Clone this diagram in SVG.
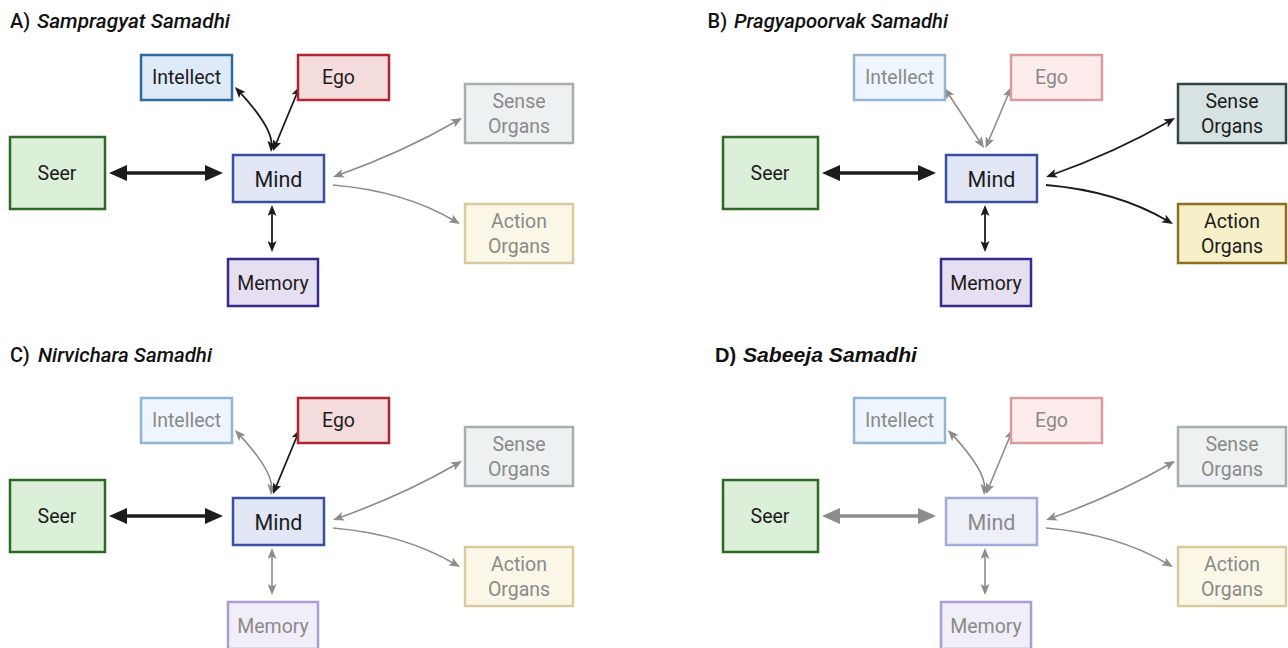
<svg xmlns="http://www.w3.org/2000/svg" width="1288" height="648" viewBox="0 0 1288 648">
<defs>
<style>
.bx{stroke-width:2.5}
.lb{font-family:Roboto,"Liberation Sans",sans-serif;font-size:19.5px;text-anchor:middle;fill:#1c1c1c}
.mi{font-size:21.5px}
.off .lb{fill:#8a8a8a}
.ti{font-family:Roboto,"Liberation Sans",sans-serif;font-size:20px;font-weight:500;fill:#111}
.tit{font-style:italic}
.td{font-family:"Liberation Sans",Arial,sans-serif;font-size:20px;font-weight:bold;fill:#111}
.intel-on{fill:#deeaf7;stroke:#2c6aa0}
.intel-off{fill:#eef5fc;stroke:#93b5d4}
.ego-on{fill:#f5dcdc;stroke:#b02434}
.ego-off{fill:#fcebeb;stroke:#d99aa0}
.seer{fill:#dcefd8;stroke:#2c6a26}
.mind-on{fill:#e2e7f5;stroke:#3b4fa2}
.mind-off{fill:#eef0f8;stroke:#a3abd8}
.mem-on{fill:#e6dff1;stroke:#382a8a}
.mem-off{fill:#f1eef8;stroke:#a99dd2}
.sense-on{fill:#d7e3e2;stroke:#334444}
.sense-off{fill:#edf1f2;stroke:#a8adad}
.act-on{fill:#f6efc8;stroke:#8d6f1f}
.act-off{fill:#faf7e7;stroke:#d8ca9e}
.k{fill:none;stroke:#1c1c1c;stroke-width:1.8}
.g{fill:none;stroke:#8c8c8c;stroke-width:1.6}
.kt{fill:none;stroke:#1c1c1c;stroke-width:3.5}
.gt{fill:none;stroke:#8c8c8c;stroke-width:3.5}
.k.s{marker-start:url(#ak)}
.k.e{marker-end:url(#ak)}
.g.s{marker-start:url(#ag)}
.g.e{marker-end:url(#ag)}
.kt{marker-start:url(#bk);marker-end:url(#bk)}
.gt{marker-start:url(#bg);marker-end:url(#bg)}
</style>
<marker id="ak" viewBox="0 0 11 9" refX="5" refY="4.5" markerWidth="11" markerHeight="9" markerUnits="userSpaceOnUse" orient="auto-start-reverse"><path d="M0,0 L11,4.5 L0,9 L2.5,4.5 Z" fill="#1c1c1c"/></marker>
<marker id="ag" viewBox="0 0 11 9" refX="5" refY="4.5" markerWidth="11" markerHeight="9" markerUnits="userSpaceOnUse" orient="auto-start-reverse"><path d="M0,0 L11,4.5 L0,9 L2.5,4.5 Z" fill="#8c8c8c"/></marker>
<marker id="bk" viewBox="0 0 18 16" refX="8" refY="8" markerWidth="18" markerHeight="16" markerUnits="userSpaceOnUse" orient="auto-start-reverse"><path d="M0,0 L18,8 L0,16 Z" fill="#1c1c1c"/></marker>
<marker id="bg" viewBox="0 0 18 16" refX="8" refY="8" markerWidth="18" markerHeight="16" markerUnits="userSpaceOnUse" orient="auto-start-reverse"><path d="M0,0 L18,8 L0,16 Z" fill="#8c8c8c"/></marker>
</defs>
<rect width="1288" height="648" fill="#ffffff"/>

<g id="titles">
<text class="ti" x="10" y="28">A)</text>
<text class="ti tit" x="37" y="28" textLength="193" lengthAdjust="spacingAndGlyphs">Sampragyat Samadhi</text>
<text class="ti" x="707.5" y="28">B)</text>
<text class="ti tit" x="734" y="28" textLength="214" lengthAdjust="spacingAndGlyphs">Pragyapoorvak Samadhi</text>
<text class="ti" x="10" y="362">C)</text>
<text class="ti tit" x="38" y="362" textLength="174" lengthAdjust="spacingAndGlyphs">Nirvichara Samadhi</text>
<text class="td" x="715" y="362">D)</text>
<text class="td tit" x="743" y="362" textLength="174" lengthAdjust="spacingAndGlyphs">Sabeeja Samadhi</text>
</g>

<!-- Panel A -->
<g id="panelA">
<g id="connectorsA">
<path class="kt" d="M119,173 H213"/>
<path class="k s e" d="M239,91.4 Q273,128 271.5,146"/>
<path class="k s e" d="M297.7,91.5 L275.3,145.5"/>
<path class="k s e" d="M272,211 V246"/>
<path class="g s e" d="M338.7,175 Q403,152 456.8,121"/>
<path class="g e" d="M333,185 Q404,191 454.8,221"/>
</g>
<g id="A-intellect"><rect class="bx intel-on" x="141" y="55" width="91" height="45"/><text class="lb" x="186.5" y="84">Intellect</text></g>
<g id="A-ego"><rect class="bx ego-on" x="298" y="55" width="91" height="45"/><text class="lb" x="338.5" y="84">Ego</text></g>
<g id="A-seer"><rect class="bx seer" x="10" y="137" width="95" height="72"/><text class="lb" x="57" y="180">Seer</text></g>
<g id="A-mind"><rect class="bx mind-on" x="233" y="155" width="91" height="47"/><text class="lb mi" x="278.5" y="186.5">Mind</text></g>
<g id="A-memory"><rect class="bx mem-on" x="228" y="259" width="90" height="47"/><text class="lb" x="273" y="289.5">Memory</text></g>
<g id="A-sense" class="off"><rect class="bx sense-off" x="465" y="84" width="108" height="59"/><text class="lb" x="519" y="107.5">Sense</text><text class="lb" x="519" y="133">Organs</text></g>
<g id="A-action" class="off"><rect class="bx act-off" x="465" y="204" width="108" height="59"/><text class="lb" x="519" y="227.5">Action</text><text class="lb" x="519" y="253">Organs</text></g>
</g>

<!-- Panel B -->
<g id="panelB" transform="translate(713,0)">
<g id="connectorsB">
<path class="kt" d="M119,173 H213"/>
<path class="g s e" d="M234.8,93 L267.7,143"/>
<path class="g s e" d="M296.1,92.5 L274.9,142.5"/>
<path class="k s e" d="M272,211 V246"/>
<path class="k s e" d="M338.7,175 Q403,152 456.8,121"/>
<path class="k e" d="M333,185 Q404,191 454.8,221"/>
</g>
<g id="B-intellect" class="off"><rect class="bx intel-off" x="141" y="55" width="91" height="45"/><text class="lb" x="186.5" y="84">Intellect</text></g>
<g id="B-ego" class="off"><rect class="bx ego-off" x="298" y="55" width="91" height="45"/><text class="lb" x="338.5" y="84">Ego</text></g>
<g id="B-seer"><rect class="bx seer" x="10" y="137" width="95" height="72"/><text class="lb" x="57" y="180">Seer</text></g>
<g id="B-mind"><rect class="bx mind-on" x="233" y="155" width="91" height="47"/><text class="lb mi" x="278.5" y="186.5">Mind</text></g>
<g id="B-memory"><rect class="bx mem-on" x="228" y="259" width="90" height="47"/><text class="lb" x="273" y="289.5">Memory</text></g>
<g id="B-sense"><rect class="bx sense-on" x="465" y="84" width="108" height="59"/><text class="lb" x="519" y="107.5">Sense</text><text class="lb" x="519" y="133">Organs</text></g>
<g id="B-action"><rect class="bx act-on" x="465" y="204" width="108" height="59"/><text class="lb" x="519" y="227.5">Action</text><text class="lb" x="519" y="253">Organs</text></g>
</g>

<!-- Panel C -->
<g id="panelC" transform="translate(0,343)">
<g id="connectorsC">
<path class="kt" d="M119,173 H213"/>
<path class="g s e" d="M239,91.4 Q273,128 271.5,146"/>
<path class="k s e" d="M297.7,91.5 L275.3,145.5"/>
<path class="g s e" d="M272,211 V246"/>
<path class="g s e" d="M338.7,175 Q403,152 456.8,121"/>
<path class="g e" d="M333,185 Q404,191 454.8,221"/>
</g>
<g id="C-intellect" class="off"><rect class="bx intel-off" x="141" y="55" width="91" height="45"/><text class="lb" x="186.5" y="84">Intellect</text></g>
<g id="C-ego"><rect class="bx ego-on" x="298" y="55" width="91" height="45"/><text class="lb" x="338.5" y="84">Ego</text></g>
<g id="C-seer"><rect class="bx seer" x="10" y="137" width="95" height="72"/><text class="lb" x="57" y="180">Seer</text></g>
<g id="C-mind"><rect class="bx mind-on" x="233" y="155" width="91" height="47"/><text class="lb mi" x="278.5" y="186.5">Mind</text></g>
<g id="C-memory" class="off"><rect class="bx mem-off" x="228" y="259" width="90" height="47"/><text class="lb" x="273" y="289.5">Memory</text></g>
<g id="C-sense" class="off"><rect class="bx sense-off" x="465" y="84" width="108" height="59"/><text class="lb" x="519" y="107.5">Sense</text><text class="lb" x="519" y="133">Organs</text></g>
<g id="C-action" class="off"><rect class="bx act-off" x="465" y="204" width="108" height="59"/><text class="lb" x="519" y="227.5">Action</text><text class="lb" x="519" y="253">Organs</text></g>
</g>

<!-- Panel D -->
<g id="panelD" transform="translate(713,343)">
<g id="connectorsD">
<path class="gt" d="M119,173 H213"/>
<path class="g s e" d="M239,91.4 Q273,128 271.5,146"/>
<path class="g s e" d="M297.7,91.5 L275.3,145.5"/>
<path class="g s e" d="M272,211 V246"/>
<path class="g s e" d="M338.7,175 Q403,152 456.8,121"/>
<path class="g e" d="M333,185 Q404,191 454.8,221"/>
</g>
<g id="D-intellect" class="off"><rect class="bx intel-off" x="141" y="55" width="91" height="45"/><text class="lb" x="186.5" y="84">Intellect</text></g>
<g id="D-ego" class="off"><rect class="bx ego-off" x="298" y="55" width="91" height="45"/><text class="lb" x="338.5" y="84">Ego</text></g>
<g id="D-seer"><rect class="bx seer" x="10" y="137" width="95" height="72"/><text class="lb" x="57" y="180">Seer</text></g>
<g id="D-mind" class="off"><rect class="bx mind-off" x="233" y="155" width="91" height="47"/><text class="lb mi" x="278.5" y="186.5">Mind</text></g>
<g id="D-memory" class="off"><rect class="bx mem-off" x="228" y="259" width="90" height="47"/><text class="lb" x="273" y="289.5">Memory</text></g>
<g id="D-sense" class="off"><rect class="bx sense-off" x="465" y="84" width="108" height="59"/><text class="lb" x="519" y="107.5">Sense</text><text class="lb" x="519" y="133">Organs</text></g>
<g id="D-action" class="off"><rect class="bx act-off" x="465" y="204" width="108" height="59"/><text class="lb" x="519" y="227.5">Action</text><text class="lb" x="519" y="253">Organs</text></g>
</g>
</svg>
